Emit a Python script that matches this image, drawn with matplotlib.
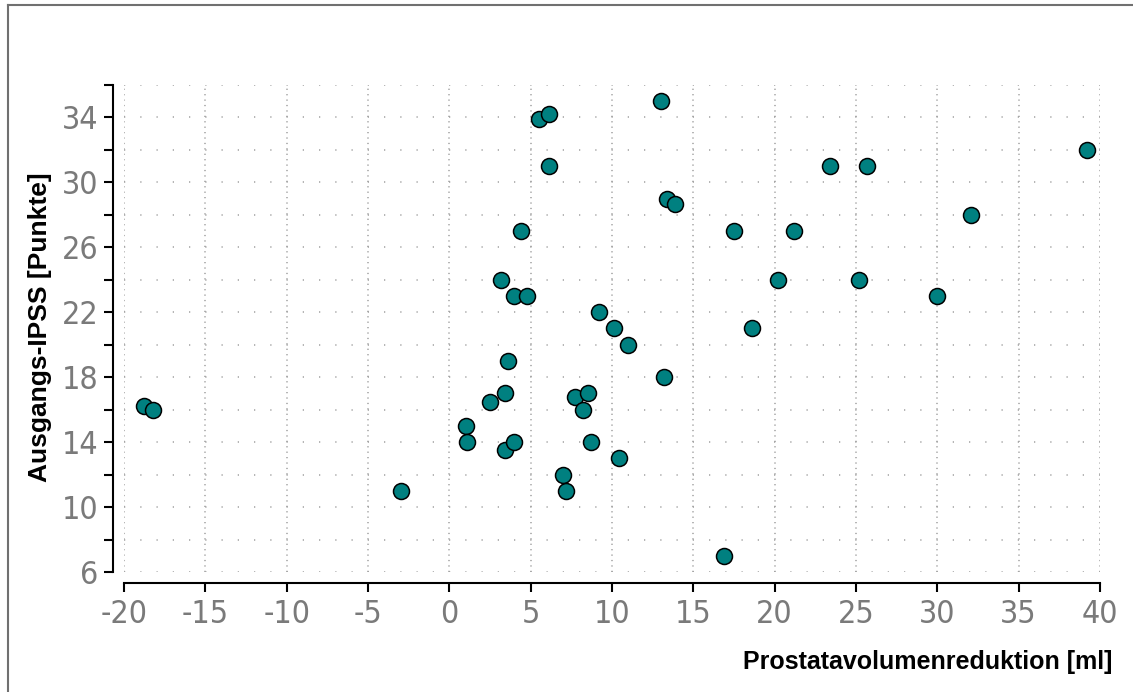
import matplotlib
matplotlib.use("Agg")
import matplotlib.pyplot as plt
from matplotlib import font_manager
from matplotlib.lines import Line2D
from matplotlib.ticker import MultipleLocator, FuncFormatter

# Daten: Prostatavolumenreduktion [ml] vs. Ausgangs-IPSS [Punkte]
volumen_reduktion = [-18.8, -18.2, -3.0, 1.0, 1.1, 2.5, 3.2, 3.4, 3.6, 3.4,
                     4.0, 4.0, 4.4, 4.8, 5.5, 6.1, 6.1, 7.0, 7.2, 7.7,
                     8.2, 8.5, 8.7, 9.2, 10.1, 10.4, 11.0, 13.0, 13.2, 13.4,
                     13.9, 16.9, 17.5, 18.6, 20.2, 21.2, 23.4, 25.2, 25.7, 30.0,
                     32.1, 39.2]
ausgangs_ipss = [16.2, 16.0, 11.0, 15.0, 14.0, 16.5, 24.0, 17.0, 19.0, 13.5,
                 14.0, 23.0, 27.0, 23.0, 33.9, 34.2, 31.0, 12.0, 11.0, 16.8,
                 16.0, 17.0, 14.0, 22.0, 21.0, 13.0, 20.0, 35.0, 18.0, 29.0,
                 28.7, 7.0, 27.0, 21.0, 24.0, 27.0, 31.0, 24.0, 31.0, 23.0,
                 28.0, 32.0]

x_achse = "Prostatavolumenreduktion [ml]"
y_achse = "Ausgangs-IPSS [Punkte]"

# schmale Schrift fuer die Achsenzahlen suchen, falls vorhanden
tick_font = 'Liberation Sans'
tick_stretch = 'normal'
for f in font_manager.fontManager.ttflist:
    if f.name in ('Liberation Sans Narrow', 'Arial Narrow'):
        tick_font = f.name
        break
else:
    for f in font_manager.fontManager.ttflist:
        if f.name == 'DejaVu Sans' and f.stretch == 'condensed' and f.weight == 400 \
                and f.style == 'normal':
            tick_font = 'DejaVu Sans'
            tick_stretch = 'condensed'
            break
tick_size = 23 if tick_font != 'Liberation Sans' else 20

plt.rcParams['lines.scale_dashes'] = False
label_font = ['Liberation Sans', 'DejaVu Sans']

fig = plt.figure(figsize=(11.33, 6.92), dpi=100)
ax = fig.add_axes([124 / 1133, 1 - 572 / 692, 976 / 1133, 487 / 692])

ax.scatter(volumen_reduktion, ausgangs_ipss, s=11.5 ** 2, c='#008080',
           edgecolors='black', linewidths=1.1, zorder=3, clip_on=False)

ax.set_xlim(-20, 40)
ax.set_ylim(6, 36)
ax.xaxis.set_major_locator(MultipleLocator(5))
ax.yaxis.set_major_locator(MultipleLocator(2))
ax.yaxis.set_major_formatter(FuncFormatter(
    lambda v, p: '%d' % v if int(round(v)) % 4 == 2 and v < 35 else ''))
ax.xaxis.set_major_formatter(FuncFormatter(lambda v, p: '%d' % v))

# Gitter: punktiert
ax.xaxis.grid(True, color='#a0a0a0', lw=1.1, dashes=(0.9, 3.0))
ax.yaxis.grid(True, color='#a0a0a0', lw=1.1, dashes=(0.9, 10.8))
ax.set_axisbelow(True)

for s in ['top', 'right']:
    ax.spines[s].set_visible(False)
for s in ['left', 'bottom']:
    ax.spines[s].set_position(('outward', 8))
    ax.spines[s].set_linewidth(1.5)

ax.tick_params(axis='both', direction='out', length=6.5, width=1.5,
               colors='black', labelcolor='#7a7a7a')
ax.tick_params(axis='y', pad=4)
ax.tick_params(axis='x', pad=5)
for lab in ax.get_xticklabels() + ax.get_yticklabels():
    lab.set_family(tick_font)
    lab.set_stretch(tick_stretch)
    lab.set_fontsize(tick_size)

fig.text(1112 / 1133, 1 - 662 / 692, x_achse, ha='right', va='center',
         fontsize=18, fontweight='bold', family=label_font)
fig.text(40 / 1133, 1 - 327 / 692, y_achse, ha='center', va='center',
         rotation=90, fontsize=19, fontweight='bold', family=label_font)

# Rahmen links und oben
fig.add_artist(Line2D([8 / 1133, 8 / 1133], [0, 1 - 4.5 / 692],
                      transform=fig.transFigure, color='#707070', lw=1.5))
fig.add_artist(Line2D([8 / 1133, 1], [1 - 4.5 / 692, 1 - 4.5 / 692],
                      transform=fig.transFigure, color='#707070', lw=1.5))

fig.savefig('out.png', dpi=100)
